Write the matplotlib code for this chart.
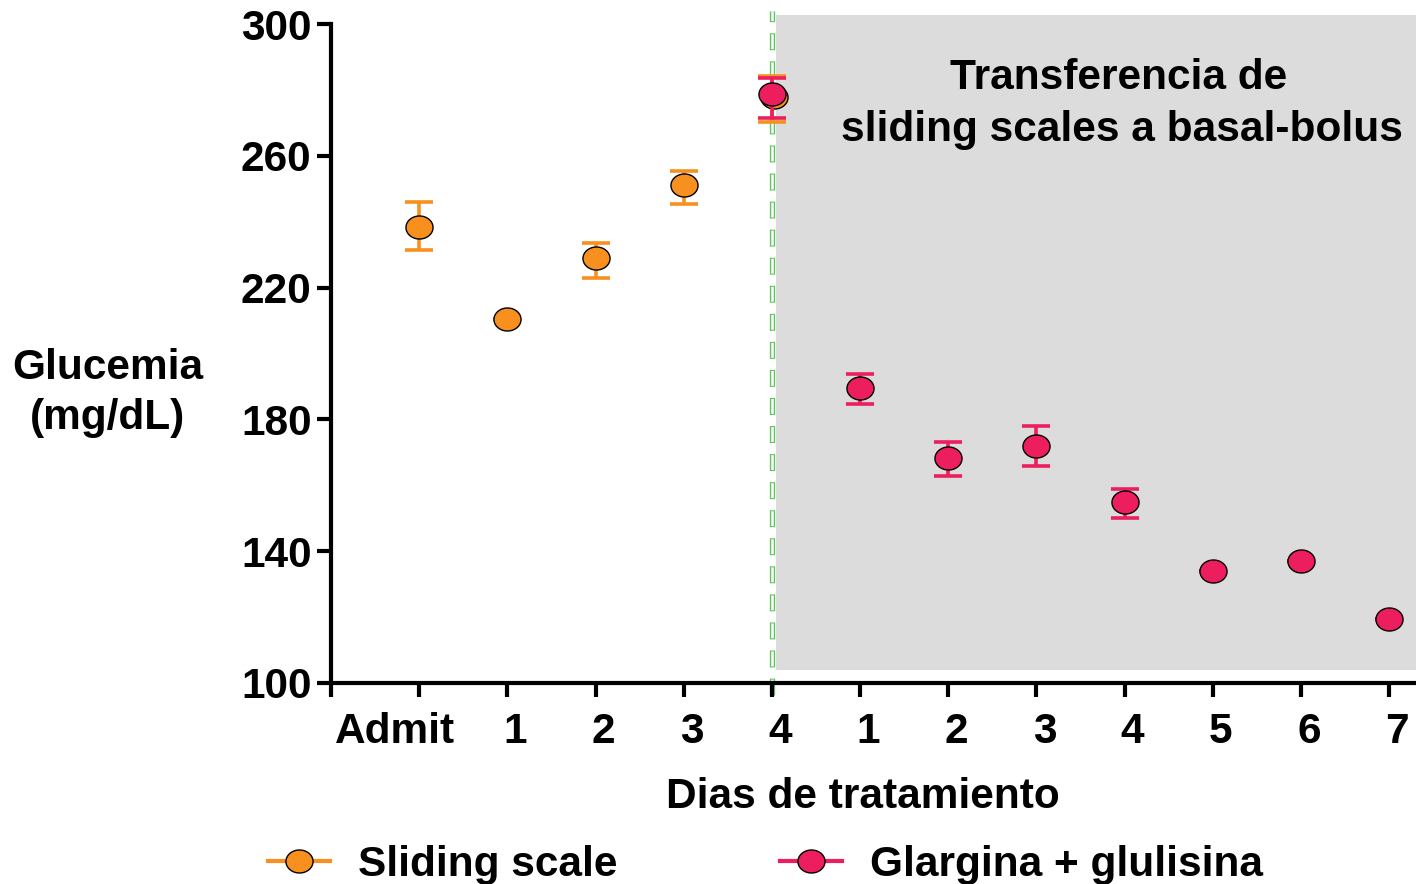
import numpy as np
import matplotlib
matplotlib.use("Agg")
import matplotlib.pyplot as plt
from matplotlib.path import Path
from matplotlib.lines import Line2D
from matplotlib.patches import Rectangle
from matplotlib.transforms import ScaledTranslation

plt.rcParams["font.family"] = ["Liberation Sans", "DejaVu Sans"]
plt.rcParams["font.weight"] = "bold"
plt.rcParams["lines.scale_dashes"] = False

# --- data -------------------------------------------------------------------
tick_labels = ["", "Admit", "1", "2", "3", "4", "1", "2", "3", "4", "5", "6", "7"]

sliding_x = [0, 1, 2, 3, 4]
sliding_mean = [238.5, 210.5, 229, 251, 277.8]
sliding_lo = [7, 0, 6, 5.5, 7.5]
sliding_hi = [7.5, 0, 4.5, 4.5, 6.5]

glarg_x = [4, 5, 6, 7, 8, 9, 10, 11]
glarg_mean = [278.8, 189.5, 168.3, 172, 155, 134, 137, 119.4]
glarg_lo = [7.3, 4.8, 5.5, 6, 5, 0, 0, 0]
glarg_hi = [4.7, 4.3, 4.7, 6, 4, 0, 0, 0]

ORANGE = "#F7901E"
PINK = "#EC1E5E"
GREEN = "#5CC65C"
FS = 30.5

# slightly flattened circle for the markers
t = np.linspace(0, 2 * np.pi, 60)
ellipse = Path(np.column_stack([np.cos(t), 0.85 * np.sin(t)]), closed=True)

fig = plt.figure(figsize=(14.16, 8.84), dpi=100)
ax = fig.add_axes([331 / 1416, 1 - 683 / 884, 1 - 331 / 1416, (683 - 24) / 884])
ax.set_xlim(-1, 11.306)
ax.set_ylim(100, 300)

# shaded basal-bolus period
ax.add_patch(Rectangle((4.05, 104), 8, 198.7, facecolor="#DCDCDC",
                       edgecolor="none", zorder=0, clip_on=False))
ax.text(7.93, 283.6, "Transferencia de", ha="center", va="center",
        fontsize=FS, fontweight="bold")
ax.text(7.97, 267.8, "sliding scales a basal-bolus", ha="center", va="center",
        fontsize=FS, fontweight="bold")

# switch-over marker: hollow green dashes
ax.plot([4, 4], [96.5, 304], color=GREEN, lw=3.8, ls=(0, (12.2, 8)),
        dash_capstyle="butt", clip_on=False, zorder=1)
ax.plot([4, 4], [96.5, 304], color="white", lw=1.8, ls=(19.45, (10.7, 9.5)),
        dash_capstyle="butt", clip_on=False, zorder=1)

kw = dict(fmt="none", elinewidth=2.6, capsize=10, capthick=2.6, clip_on=False)
ax.errorbar(sliding_x, sliding_mean, yerr=[sliding_lo, sliding_hi], ecolor=ORANGE, zorder=3, **kw)
ax.plot(np.array(sliding_x) + [0, 0, 0, 0, 0.02], sliding_mean, ls="none", marker=ellipse,
        ms=19.5, mfc=ORANGE, mec="black", mew=1, zorder=4, clip_on=False)
ax.errorbar(glarg_x, glarg_mean, yerr=[glarg_lo, glarg_hi], ecolor=PINK, zorder=5, **kw)
ax.plot(glarg_x, glarg_mean, ls="none", marker=ellipse,
        ms=19.5, mfc=PINK, mec="black", mew=1, zorder=6, clip_on=False)

# axes styling
for s in ["top", "right"]:
    ax.spines[s].set_visible(False)
for s in ["left", "bottom"]:
    ax.spines[s].set_linewidth(3)
ax.set_yticks([100, 140, 180, 220, 260, 300])
ax.set_xticks(range(-1, 12))
ax.set_xticklabels(tick_labels)
ax.tick_params(axis="both", width=3, length=10, labelsize=FS)
ax.tick_params(axis="x", pad=11)
ax.tick_params(axis="y", pad=4)
for lab in ax.get_yticklabels() + ax.get_xticklabels():
    lab.set_fontweight("bold")
for i, lab in enumerate(ax.get_xticklabels()):
    dx = -0.24 if i == 1 else 0.08
    lab.set_transform(lab.get_transform() + ScaledTranslation(dx, 0, fig.dpi_scale_trans))

fig.text(108 / 1416, 1 - 393 / 884, "Glucemia\n(mg/dL)", ha="center", va="center",
         fontsize=FS, fontweight="bold", linespacing=1.3)
fig.text(863 / 1416, 1 - 797 / 884, "Dias de tratamiento", ha="center", va="center",
         fontsize=FS, fontweight="bold")

handles = [
    Line2D([], [], color=ORANGE, lw=3, marker=ellipse, ms=19.5, mfc=ORANGE, mec="black", mew=1),
    Line2D([], [], color=PINK, lw=3, marker=ellipse, ms=19.5, mfc=PINK, mec="black", mew=1),
]
fig.legend(handles, ["Sliding scale", "Glargina + glulisina"], ncol=2, frameon=False,
           loc="center left", bbox_to_anchor=(268 / 1416, 1 - 865 / 884),
           borderpad=0, borderaxespad=0, handlelength=1.46, handletextpad=0.66,
           columnspacing=3.85, prop=dict(size=FS, weight="bold"))

fig.savefig("out.png", dpi=100)
